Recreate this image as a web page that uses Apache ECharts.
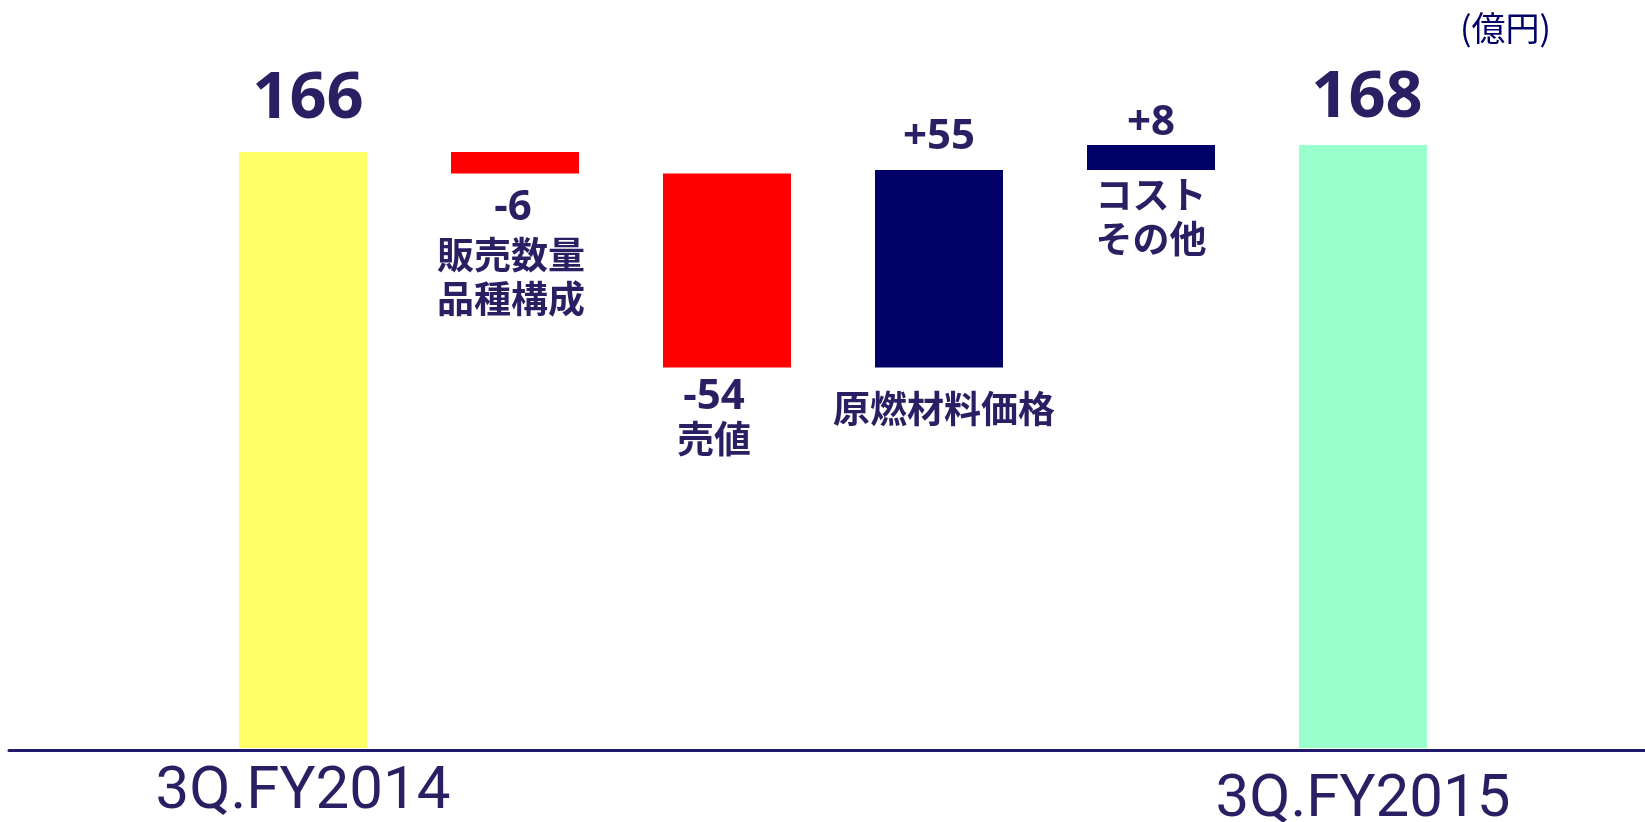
<!DOCTYPE html>
<html><head><meta charset="utf-8">
<script src="https://cdn.jsdelivr.net/npm/echarts@6/dist/echarts.min.js"></script>
<style>html,body{margin:0;padding:0;background:#fff}#c{width:1645px;height:822px}</style>
</head><body><div id="c"></div>
<script>
// ---- data ----
const categories = ['3Q.FY2014', '販売数量\n品種構成', '売値', '原燃材料価格', 'コスト\nその他', '3Q.FY2015'];
const axisLabels = ['3Q.FY2014', '', '', '', '', '3Q.FY2015'];
const startTotal = 166;
const endTotal = 168;
const deltas = [-6, -54, 55, 7];
const valueLabels = ['166', '-6', '-54', '+55', '+8', '168'];
const unitLabel = '(億円)';

// ---- styles ----
const TEXT = '#2a1f63';
const colors = { start: '#FFFF66', end: '#99FFCC', down: '#FF0000', up: '#000066' };
const valueDist = [20, 13, 9, 12, 1, 14];
const nameDist = [0, 59, 49, 19, 3, 0];
const valueOffset = [[5, 0], [-2, 0], [-13, 0], [0, 0], [0, 0], [4, 0]];
const nameOffset = [[0, 0], [-4, 0], [-13, 0], [5, 0], [0, 0], [0, 0]];
const numFont = { fontFamily: 'Noto Sans', fontWeight: 'bold', color: TEXT };
const cjkFont = { fontFamily: 'Noto Sans CJK JP', fontWeight: 'bold', color: TEXT, fontSize: 37, lineHeight: 44 };

const baseData = [], visData = [];
let run = startTotal;
function totalItem(v, i, color) {
  baseData.push({ value: 0, label: { show: false } });
  visData.push({
    value: v, itemStyle: { color },
    label: Object.assign({ show: true, position: 'top', distance: valueDist[i], offset: valueOffset[i], fontSize: 65, lineHeight: 65, formatter: valueLabels[i] }, numFont)
  });
}
totalItem(startTotal, 0, colors.start);
deltas.forEach((d, k) => {
  const i = k + 1;
  let b;
  if (d < 0) { run += d; b = run; } else { b = run; run += d; }
  baseData.push({
    value: b,
    label: Object.assign({ show: true, position: 'insideTop', distance: nameDist[i], offset: nameOffset[i], formatter: categories[i] }, cjkFont)
  });
  visData.push({
    value: Math.abs(d), itemStyle: { color: d < 0 ? colors.down : colors.up },
    label: Object.assign({ show: true, position: d < 0 ? 'bottom' : 'top', distance: valueDist[i], offset: valueOffset[i], fontSize: 42, lineHeight: 42, formatter: valueLabels[i] }, numFont)
  });
});
totalItem(endTotal, 5, colors.end);

const chart = echarts.init(document.getElementById('c'), null, { renderer: 'canvas' });
chart.setOption({
  animation: false,
  backgroundColor: '#fff',
  title: {
    text: unitLabel, right: 89, top: 6,
    textStyle: { fontFamily: 'Noto Sans CJK JP', fontWeight: 'normal', fontSize: 34, color: '#000066' }
  },
  grid: [
    { left: 197, width: 1272, top: 30, bottom: 74, containLabel: false, outerBoundsMode: 'none' },
    { left: 9, right: 0, top: 30, bottom: 72, containLabel: false, outerBoundsMode: 'none' }
  ],
  xAxis: [
    {
      type: 'category', gridIndex: 0, data: axisLabels.map((t, i) => i === 5 ? { value: t, textStyle: { padding: [8, 0, 0, 0] } } : t),
      axisLine: { show: false }, axisTick: { show: false },
      axisLabel: { interval: 0, margin: 15, fontFamily: 'Roboto', fontSize: 60, lineHeight: 60, color: TEXT }
    },
    {
      type: 'value', gridIndex: 1, min: 0, max: 1,
      axisLine: { show: true, lineStyle: { color: '#1f1a6e', width: 3 } },
      axisTick: { show: false }, axisLabel: { show: false }, splitLine: { show: false }
    }
  ],
  yAxis: [
    { type: 'value', gridIndex: 0, min: 0, max: 200, show: false, splitLine: { show: false } },
    { type: 'value', gridIndex: 1, min: 0, max: 1, show: false, splitLine: { show: false } }
  ],
  series: [
    { type: 'bar', name: 'base', stack: 'w', xAxisIndex: 0, yAxisIndex: 0, barWidth: 128, silent: true,
      itemStyle: { color: 'transparent' }, emphasis: { disabled: true }, data: baseData, z: 3 },
    { type: 'bar', name: 'value', stack: 'w', xAxisIndex: 0, yAxisIndex: 0, barWidth: 128, silent: true,
      emphasis: { disabled: true }, data: visData, z: 4 }
  ]
});
</script>
</body></html>
